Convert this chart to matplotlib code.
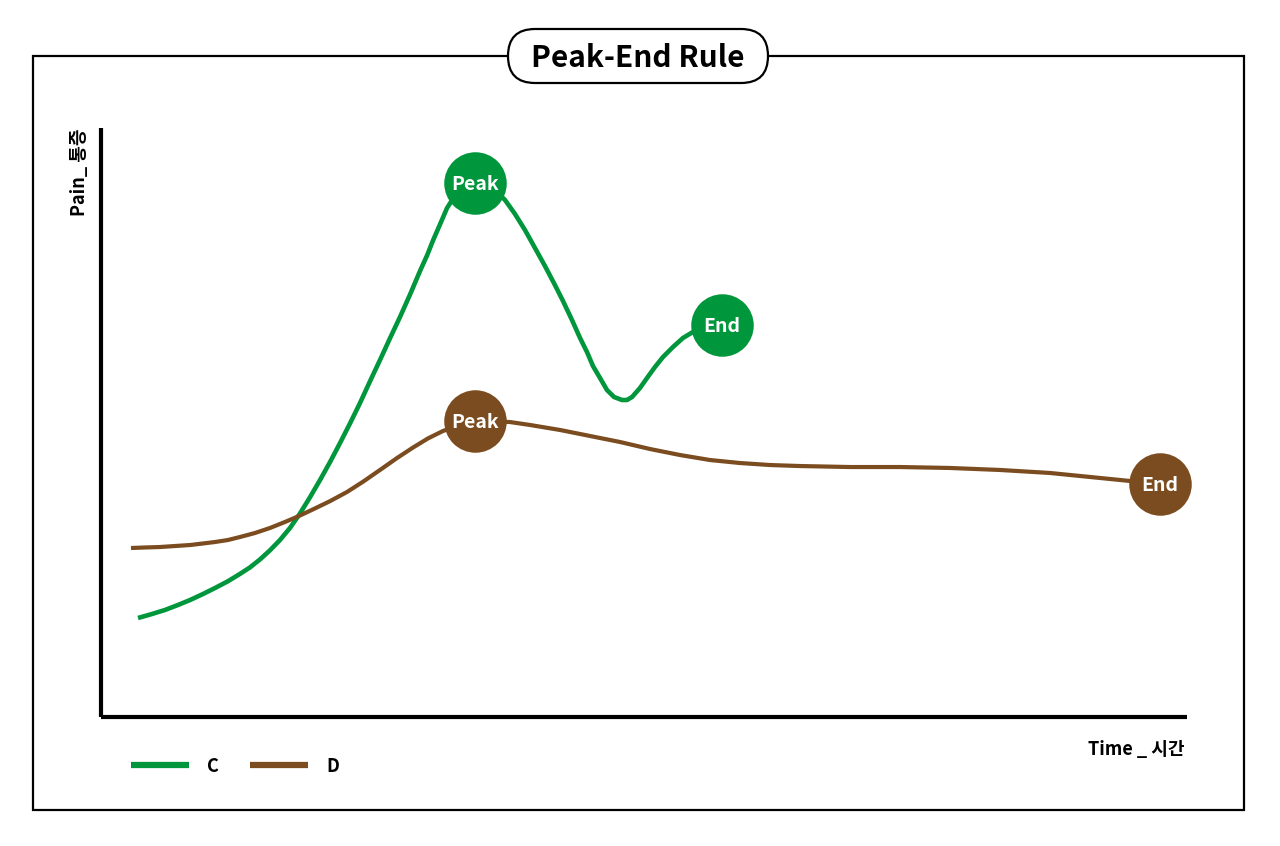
import matplotlib
matplotlib.use("Agg")
import matplotlib.pyplot as plt
import numpy as np
from matplotlib.patches import FancyBboxPatch, Rectangle

plt.rcParams["font.family"] = ["Noto Sans CJK KR", "DejaVu Sans"]

# time (0-100) / pain (0-100)
c_time = [3.41, 4.70, 5.89, 7.09, 8.20, 9.39, 10.50, 11.69, 12.80, 13.72,
          14.64, 15.56, 16.48, 17.40, 18.32, 19.24, 20.17, 21.09, 22.01, 22.93,
          23.85, 24.77, 25.69, 26.61, 27.53, 28.45, 29.37, 30.02, 30.57, 31.22,
          31.86, 32.60, 33.52, 34.44, 35.36, 36.28, 37.20, 38.12, 39.04, 39.96,
          40.88, 41.80, 42.54, 43.37, 44.11, 44.75, 45.30, 45.95, 46.59, 47.24,
          47.97, 48.43, 48.90, 49.63, 50.28, 51.01, 51.75, 52.67, 53.59, 54.51,
          55.62, 57.18]
c_pain = [16.81, 17.49, 18.17, 19.02, 19.86, 20.88, 21.90, 23.05, 24.30, 25.40,
          26.75, 28.30, 30.05, 32.09, 34.55, 37.30, 40.24, 43.29, 46.52, 49.85,
          53.31, 57.00, 60.61, 64.30, 67.91, 71.70, 75.70, 78.35, 80.90, 83.65,
          86.40, 88.55, 90.15, 90.66, 90.49, 89.47, 87.78, 85.40, 82.68, 79.63,
          76.57, 73.34, 70.63, 67.40, 64.35, 61.97, 59.59, 57.56, 55.52, 54.33,
          53.82, 53.82, 54.33, 55.86, 57.56, 59.42, 61.12, 62.82, 64.35, 65.37,
          66.04, 66.55]

d_time = [2.76, 4.05, 5.43, 6.81, 8.20, 9.39, 10.50, 11.69, 12.80, 14.18,
          15.56, 16.94, 18.14, 19.52, 21.09, 22.65, 24.13, 25.69, 27.26, 28.73,
          30.11, 31.49, 33.06, 34.44, 36.28, 37.66, 39.50, 42.27, 45.03, 47.79,
          50.55, 53.31, 56.08, 58.84, 61.60, 64.36, 68.97, 73.57, 78.18, 82.78,
          87.38, 91.99, 94.75, 97.51]
d_pain = [28.69, 28.78, 28.86, 29.03, 29.20, 29.46, 29.71, 30.05, 30.56, 31.24,
          32.09, 33.11, 34.05, 35.25, 36.65, 38.20, 39.95, 41.94, 43.97, 45.75,
          47.30, 48.56, 49.58, 50.25, 50.17, 50.08, 49.58, 48.73, 47.71, 46.69,
          45.50, 44.48, 43.63, 43.12, 42.78, 42.61, 42.44, 42.44, 42.28, 41.94,
          41.43, 40.58, 40.07, 39.56]

series = [("C", c_time, c_pain, "#00963C", 3.3),
          ("D", d_time, d_pain, "#7B4C1F", 3.0)]

fig = plt.figure(figsize=(12.8, 8.46), dpi=100)

# outer frame + title pill
fig.add_artist(Rectangle((33 / 1280, 36 / 846), 1211 / 1280, 754 / 846,
                         transform=fig.transFigure, fill=False,
                         edgecolor="black", linewidth=1.6, zorder=1))
fig.add_artist(FancyBboxPatch((5.08, 7.63), 2.60, 0.54,
                              boxstyle="round,pad=0,rounding_size=0.27",
                              transform=fig.dpi_scale_trans,
                              facecolor="white", edgecolor="black",
                              linewidth=1.6, zorder=2))
fig.text(638 / 1280, (846 - 67) / 846, "Peak-End Rule", ha="center",
         va="baseline", fontsize=21.5, fontweight="bold", zorder=3)

ax = fig.add_axes([101 / 1280, 129 / 846, 1086 / 1280, 589 / 846])
ax.set_xlim(0, 100)
ax.set_ylim(0, 100)
for side in ["top", "right"]:
    ax.spines[side].set_visible(False)
for side in ["left", "bottom"]:
    ax.spines[side].set_linewidth(3)
    ax.spines[side].set_capstyle("butt")
ax.set_xticks([])
ax.set_yticks([])

for name, t, p, color, lw in series:
    ax.plot(t, p, color=color, linewidth=lw, label=name, solid_capstyle="butt",
            solid_joinstyle="round", zorder=3)
    i_peak = int(np.argmax(p))
    for i, txt in [(i_peak, "Peak"), (len(p) - 1, "End")]:
        ax.plot(t[i], p[i], "o", markersize=45, color=color,
                markeredgewidth=0, clip_on=False, zorder=4)
        ax.text(t[i], p[i] - 0.3, txt, ha="center", va="center", color="white",
                fontsize=14, fontweight="bold", zorder=5)

fig.text(80 / 1280, (846 - 128) / 846, "Pain_ 통증", rotation=90,
         ha="center", va="top", fontsize=13, fontweight="bold")
fig.text(1185 / 1280, (846 - 755) / 846, "Time _ 시간", ha="right",
         va="baseline", fontsize=13, fontweight="bold")

leg = fig.legend(loc="center left", bbox_to_anchor=(131 / 1280, (846 - 766) / 846),
                 ncol=2, frameon=False, borderpad=0, borderaxespad=0,
                 handlelength=3.2, handletextpad=1.0, columnspacing=1.75,
                 prop={"weight": "bold", "size": 13})
for line in leg.get_lines():
    line.set_linewidth(4.5)

fig.savefig("out.png", dpi=100)
